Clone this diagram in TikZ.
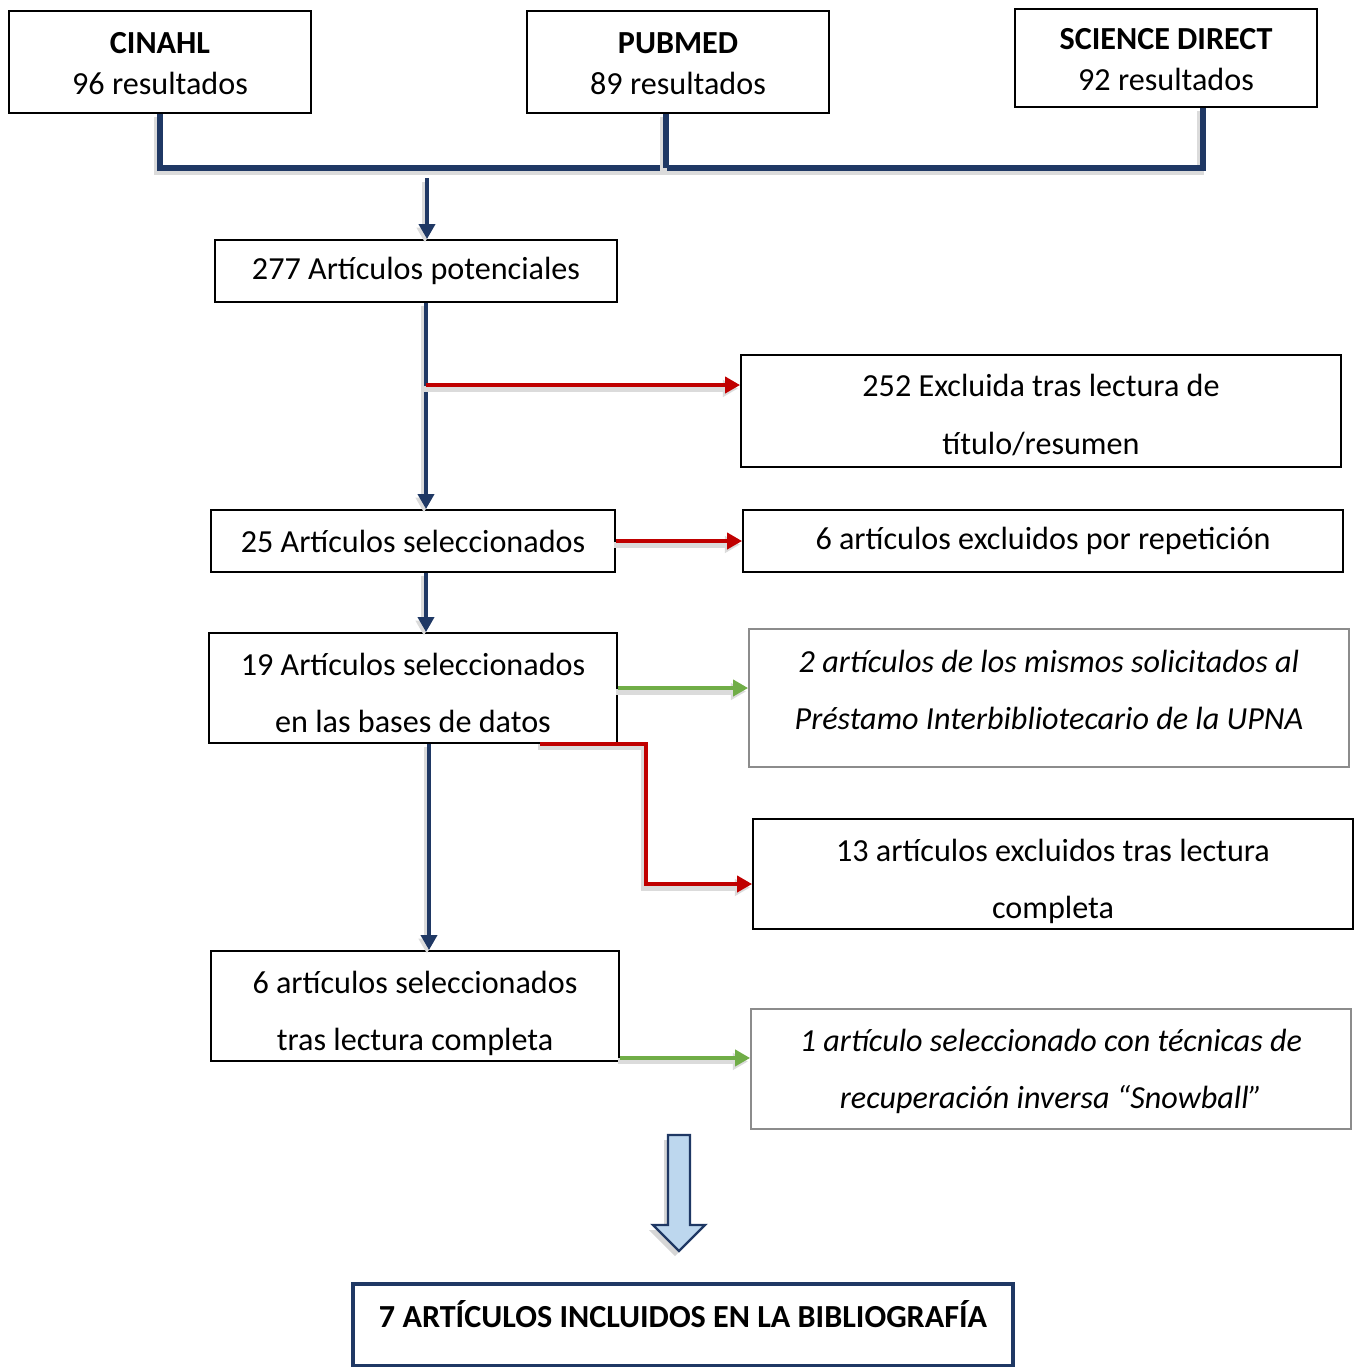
\documentclass[tikz,border=0pt]{standalone}
\usepackage{fontspec}
\setmainfont{Carlito}
\usepackage{tikz}
\usetikzlibrary{arrows.meta, positioning}

\definecolor{navy}{RGB}{31,56,100}
\definecolor{redline}{RGB}{192,0,0}
\definecolor{greenline}{RGB}{112,173,71}
\definecolor{paleblue}{RGB}{189,215,238}

\begin{document}
\begin{tikzpicture}[
    x=0.02cm, y=-0.02cm,
    % Styles for boxes
    box/.style={draw=black, line width=1.1pt, align=center, inner sep=0pt,
        font=\fontsize{18.3}{32.5}\selectfont},
    greybox/.style={box, draw=black!45},
    src/.style={box, font=\fontsize{18.3}{23.8}\selectfont,
        text height=41.4pt, text depth=4pt},
    twoline/.style={text depth=4pt, text height=#1},
    % Styles for connectors
    shade/.style={preaction={draw=black!14, line width=#1,
        transform canvas={shift={(-1.2pt,-2pt)}}}},
    bus/.style={shade=4pt, line width=3pt, draw=navy},
    flow/.style={shade=3.2pt, line width=2.4pt, draw=navy,
        -{Triangle[length=0.3cm, width=0.32cm]}},
    reject/.style={shade=3.4pt, line width=2.7pt, draw=redline,
        -{Triangle[length=0.3cm, width=0.32cm]}},
    keep/.style={shade=3.4pt, line width=2.8pt, draw=greenline,
        -{Triangle[length=0.3cm, width=0.32cm]}}
]
\useasboundingbox (0,0) rectangle (1359,1367);

        % --- Sources ---
        \node[src, minimum width=6.04cm, minimum height=2.04cm] (cinahl) at (160,62)
            {\textbf{CINAHL}\\96 resultados};
        \node[src, minimum width=6.04cm, minimum height=2.04cm] (pubmed) at (678,62)
            {\textbf{PUBMED}\\89 resultados};
        \node[src, minimum width=6.04cm, minimum height=1.96cm] (sdirect) at (1166,58)
            {\textbf{SCIENCE DIRECT}\\92 resultados};

        % --- Main column ---
        \node[box, minimum width=8.04cm, minimum height=1.24cm] (pot) at (416,271)
            {277 Artículos potenciales};
        \node[box, minimum width=8.08cm, minimum height=1.24cm] (sel25) at (413,541)
            {25 Artículos seleccionados};
        \node[box, twoline=54.5pt, minimum width=8.16cm, minimum height=2.2cm] (sel19) at (413,688)
            {19 Artículos seleccionados\\en las bases de datos};
        \node[box, twoline=55pt, minimum width=8.16cm, minimum height=2.2cm] (sel6) at (415,1006)
            {6 artículos seleccionados\\tras lectura completa};

        % --- Side boxes ---
        \node[box, twoline=53pt, minimum width=12cm, minimum height=2.24cm] (excl1) at (1041,411)
            {252 Excluida tras lectura de\\título/resumen};
        \node[box, minimum width=12cm, minimum height=1.24cm] (rep) at (1043,541)
            {6 artículos excluidos por repetición};
        \node[greybox, twoline=40.3pt, minimum width=12cm, minimum height=2.76cm] (prest) at (1049,698)
            {\itshape 2 artículos de los mismos solicitados al\\\itshape Préstamo Interbibliotecario de la UPNA};
        \node[box, twoline=54.5pt, minimum width=12cm, minimum height=2.2cm] (excl13) at (1053,874)
            {13 artículos excluidos tras lectura\\completa};
        \node[greybox, twoline=49.5pt, minimum width=12cm, minimum height=2.4cm] (snow) at (1051,1069)
            {\itshape 1 artículo seleccionado con técnicas de\\\itshape recuperación inversa “Snowball”};

        % --- Result ---
        \node[box, draw=navy, line width=2.3pt, minimum width=13.22cm, minimum height=1.66cm,
            text height=6.3pt, text depth=4pt,
            font=\fontsize{18.3}{21}\selectfont\bfseries] (final) at (683,1325)
            {7 ARTÍCULOS INCLUIDOS EN LA BIBLIOGRAFÍA};

        % --- Connectors ---
        \coordinate (busL) at (160,168);
        \coordinate (busM) at (666,168);
        \coordinate (busR) at (1203,168);
        \coordinate (feed) at (427,178);
        \coordinate (spine) at (426,0);
        \coordinate (spine2) at (429,0);
        \coordinate (cut1) at (426,385);
        \coordinate (bend) at (646,884);
        \coordinate (g2) at ([yshift=0.08cm]sel6.south east);

        \draw[bus] (cinahl.south) -- (busL) -- (busR) -- (sdirect.south -| busR);
        \draw[bus] (pubmed.south -| busM) -- (busM);
        \draw[flow] (feed) -- (pot.north -| feed);
        \draw[flow] (pot.south -| spine) -- (sel25.north -| spine);
        \draw[reject] (cut1) -- (cut1 -| excl1.west);
        \draw[reject] (sel25.east) -- (rep.west);
        \draw[flow] (sel25.south -| spine) -- (sel19.north -| spine);
        \draw[keep] (sel19.east) -- (sel19.east -| prest.west);
        \draw[reject] ([xshift=2.54cm]sel19.south) -| (bend) -- (bend -| excl13.west);
        \draw[flow] (sel19.south -| spine2) -- (sel6.north -| spine2);
        \draw[keep] (g2) -- (g2 -| snow.west);

        % --- Hollow arrow to result ---
        \fill[black!16, shift={(-4,5)}]
            (668,1135) -- (690,1135) -- (690,1225) -- (705,1225) -- (679,1251)
            -- (653,1225) -- (668,1225) -- cycle;
        \draw[navy, line width=1.3pt, fill=paleblue, line join=miter]
            (668,1135) -- (690,1135) -- (690,1225) -- (705,1225) -- (679,1251)
            -- (653,1225) -- (668,1225) -- cycle;

\end{tikzpicture}
\end{document}
